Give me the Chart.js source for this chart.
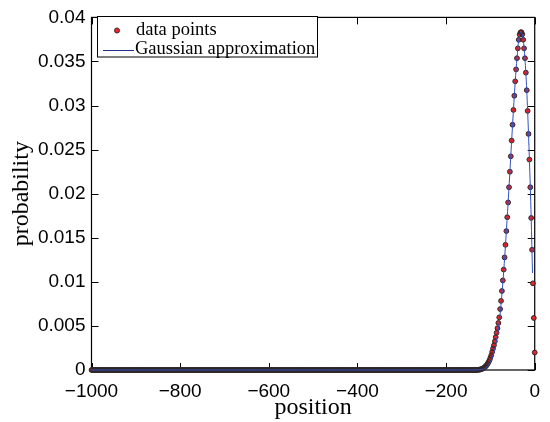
<!DOCTYPE html>
<html>
<head>
<meta charset="utf-8">
<script src="https://cdn.jsdelivr.net/npm/chart.js@4/dist/chart.umd.min.js"></script>
<style>
  html, body { margin: 0; padding: 0; background: #fff; }
  #chart { display: block; }
</style>
</head>
<body>
<canvas id="chart" width="550" height="422"></canvas>
<script>
"use strict";

// positions on the lattice (only even sites are occupied)
var positions = [];
for (var p = -1000; p <= 0; p += 2) positions.push(p);

// -1000 ... -132: every point sits on the zero line in the picture
var tailProbability = new Array(435).fill(0);
// -130 ... 0
var peakProbability = [
    0.00001, 0.00002, 0.00003, 0.00005, 0.00007, 0.00010, 0.00015, 0.00020,
    0.00028, 0.00036, 0.00045, 0.00058, 0.00073, 0.00090, 0.00112, 0.00138,
    0.00168, 0.00205, 0.00243, 0.00280, 0.00325, 0.00373, 0.00422, 0.00474,
    0.00534, 0.00597, 0.00691, 0.00784, 0.00896, 0.01016, 0.01139, 0.01277,
    0.01420, 0.01576, 0.01733, 0.01901, 0.02073, 0.02249, 0.02424, 0.02603,
    0.02782, 0.02950, 0.03111, 0.03275, 0.03410, 0.03537, 0.03649, 0.03746,
    0.03805, 0.03830, 0.03832, 0.03808, 0.03746, 0.03649, 0.03537, 0.03373,
    0.03174, 0.02939, 0.02678, 0.02387, 0.02073, 0.01725, 0.01364, 0.00983,
    0.00590, 0.00198
];
var probability = tailProbability.concat(peakProbability);

// gaussian approximation curve, read at a few positions
var gaussPositions = [-1000, -150, -130, -120, -110, -100, -90, -80, -70, -60, -50, -44,
    -40, -36, -32, -28, -24, -20, -16, -12, -8, -5];
var gaussValues = [0, 0, 0.00001, 0.00005, 0.00025, 0.0009, 0.0024, 0.0054, 0.0112, 0.0190,
    0.0278, 0.0327, 0.0354, 0.0375, 0.0383, 0.0381, 0.0365, 0.0337, 0.0294, 0.0239, 0.0173, 0.0110];

var xTicks = [-1000, -800, -600, -400, -200, 0];
var yTicks = [0, 0.005, 0.01, 0.015, 0.02, 0.025, 0.03, 0.035, 0.04];

var seriesNames = ['data points', 'Gaussian approximation'];

var dotFill = '#e8222b';
var dotEdge = '#2e2626';
var lineColor = '#3250c0';
var tickFont = { family: '"Liberation Sans", Arial, sans-serif', size: 19 };
var serif = '"Liberation Serif", "Times New Roman", serif';

var dots = positions.map(function(x, i) { return { x: x, y: probability[i] }; });
var gauss = gaussPositions.map(function(x, i) { return { x: x, y: gaussValues[i] }; });

function minus(v) { return String(v).replace('-', '\u2212'); }

// matlab style box, inward ticks and boxed legend
var frame = {
    id: 'frame',
    beforeDatasetsDraw: function(chart) {
        var ctx = chart.ctx, a = chart.chartArea;
        var xs = chart.scales.x, ys = chart.scales.y;
        ctx.save();
        ctx.strokeStyle = '#000';
        ctx.lineWidth = 1.2;
        ctx.strokeRect(a.left, a.top, a.right - a.left, a.bottom - a.top);
        ctx.lineWidth = 1;
        ctx.beginPath();
        xTicks.forEach(function(t) {
            var px = Math.round(xs.getPixelForValue(t)) + 0.5;
            ctx.moveTo(px, a.bottom); ctx.lineTo(px, a.bottom - 7);
            ctx.moveTo(px, a.top); ctx.lineTo(px, a.top + 7);
        });
        yTicks.forEach(function(t) {
            var py = Math.round(ys.getPixelForValue(t)) + 0.5;
            ctx.moveTo(a.left, py); ctx.lineTo(a.left + 7, py);
            ctx.moveTo(a.right, py); ctx.lineTo(a.right - 7, py);
        });
        ctx.stroke();
        ctx.restore();
    },
    afterDraw: function(chart) {
        var ctx = chart.ctx;
        ctx.save();
        ctx.fillStyle = '#fff';
        ctx.fillRect(97, 16.5, 220, 40.5);
        ctx.strokeStyle = '#000';
        ctx.lineWidth = 1;
        ctx.strokeRect(97.5, 16.5, 220, 40.5);

        ctx.beginPath();
        ctx.arc(117, 30.5, 2.6, 0, Math.PI * 2);
        ctx.fillStyle = dotFill;
        ctx.fill();
        ctx.lineWidth = 0.8;
        ctx.strokeStyle = dotEdge;
        ctx.stroke();

        ctx.beginPath();
        ctx.moveTo(103, 50.5); ctx.lineTo(134, 50.5);
        ctx.strokeStyle = '#22308f';
        ctx.lineWidth = 1;
        ctx.stroke();

        ctx.fillStyle = '#000';
        ctx.font = '18.5px ' + serif;
        ctx.textBaseline = 'middle';
        ctx.fillText(seriesNames[0], 136, 30);
        ctx.fillText(seriesNames[1], 135, 49);
        ctx.restore();
    }
};

new Chart(document.getElementById('chart'), {
    type: 'scatter',
    data: {
        datasets: [{
            // marker faces
            label: seriesNames[0],
            data: dots,
            order: 2,
            pointRadius: 2.4,
            pointBackgroundColor: dotFill,
            pointBorderWidth: 0,
            clip: false
        }, {
            // marker edges, drawn over all the faces like matlab does
            label: seriesNames[0],
            data: dots,
            order: 1,
            pointRadius: 2.4,
            pointBackgroundColor: 'rgba(0,0,0,0)',
            pointBorderColor: dotEdge,
            pointBorderWidth: 1,
            clip: false
        }, {
            label: seriesNames[1],
            data: gauss,
            order: 0,
            showLine: true,
            pointRadius: 0,
            borderColor: lineColor,
            borderWidth: 1,
            cubicInterpolationMode: 'monotone',
            clip: false
        }]
    },
    options: {
        responsive: false,
        animation: false,
        events: [],
        layout: { padding: { top: 13, right: 14.5, left: 0, bottom: 0 } },
        plugins: { legend: { display: false }, tooltip: { enabled: false } },
        scales: {
            x: {
                type: 'linear',
                min: -1000,
                max: 0,
                afterFit: function(scale) { scale.height = 52; },
                afterBuildTicks: function(scale) {
                    scale.ticks = xTicks.map(function(v) { return { value: v }; });
                },
                grid: { display: false, drawTicks: false },
                border: { display: false },
                ticks: {
                    color: '#000',
                    font: tickFont,
                    padding: 10,
                    maxRotation: 0,
                    callback: function(v) { return minus(v); }
                },
                title: {
                    display: true,
                    text: 'position',
                    color: '#000',
                    font: { family: serif, size: 24 },
                    padding: { top: 0, bottom: 0 }
                }
            },
            y: {
                min: 0,
                max: 0.04,
                afterFit: function(scale) { scale.width = 91.5; },
                afterBuildTicks: function(scale) {
                    scale.ticks = yTicks.map(function(v) { return { value: v }; });
                },
                grid: { display: false, drawTicks: false },
                border: { display: false },
                ticks: {
                    color: '#000',
                    font: tickFont,
                    padding: 6,
                    callback: function(v) { return String(Number(v.toFixed(3))); }
                },
                title: {
                    display: true,
                    text: 'probability',
                    color: '#000',
                    font: { family: serif, size: 24 },
                    padding: { top: 7, bottom: 0 }
                }
            }
        }
    },
    plugins: [frame]
});
</script>
</body>
</html>
